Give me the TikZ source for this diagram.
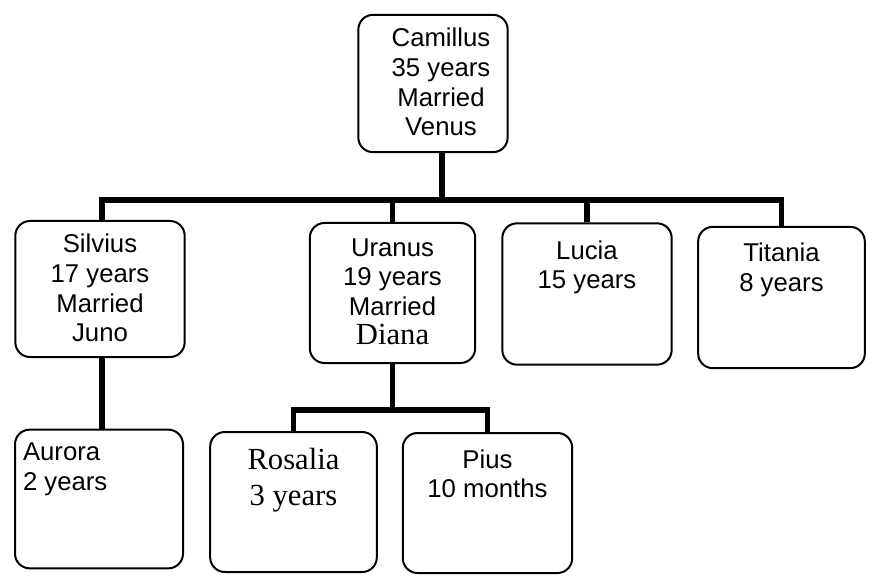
\documentclass[tikz,border=0pt]{standalone}
\usepackage{fontspec}
\setmainfont{Liberation Sans}
\newfontfamily\timesfont{Liberation Serif}
\usetikzlibrary{positioning,calc}

% text block inside a card: [top pad], width, height, content
\newcommand{\cardtext}[4][10pt]{\begin{minipage}[c][#3][t]{#2}\vspace*{#1}#4\end{minipage}}

\begin{document}
\begin{tikzpicture}[
    x=0.75pt, y=-0.75pt,
    font=\fontsize{19.3}{22.2}\selectfont,
    person/.style={draw, line width=1.5pt, rounded corners=11pt, inner sep=0pt},
    link/.style={line width=3.8pt}
]
    \useasboundingbox (0,0) rectangle (872,581);

    % top generation
    \node[person] (camillus) at (433,83.5) {\hspace*{12pt}\cardtext{100pt}{103pt}{\centering Camillus\\35 years\\Married\\Venus}};

    % children
    \node[person] (silvius) at (100,289) {\cardtext{127pt}{102pt}{\centering Silvius\\17 years\\Married\\Juno}};
    \node[person] (uranus) at (392.5,293) {\cardtext[11.5pt]{124pt}{105pt}{\centering Uranus\\19 years\\Married\\{\timesfont\fontsize{23}{22.2}\selectfont Diana}}};
    \node[person] (lucia) at (587,294) {\cardtext[13pt]{127pt}{106pt}{\centering Lucia\\15 years}};
    \node[person] (titania) at (781.5,297.5) {\cardtext[12pt]{125pt}{106pt}{\centering Titania\\8 years}};

    % grandchildren
    \node[person] (aurora) at (99,499) {\cardtext{126pt}{104pt}{\hspace*{6pt}Aurora\\\hspace*{6pt}2 years}};
    \node[person] (rosalia) at (293.5,502) {\cardtext[12pt]{125pt}{105pt}{\centering\timesfont\fontsize{23}{27}\selectfont Rosalia\\3 years}};
    \node[person] (pius) at (487.5,503) {\cardtext[12.5pt]{127pt}{105pt}{\centering Pius\\10 months}};

    % family lines
    \coordinate (bar) at (0,200);
    \draw[link] ([xshift=6.75pt]camillus.south) -- ([xshift=6.75pt]camillus.south |- bar);
    \draw[link] ([xshift=1.5pt]silvius.north) -- ([xshift=1.5pt]silvius.north |- bar) -- (titania.north |- bar) -- (titania.north);
    \draw[link] (uranus.north) -- (uranus.north |- bar);
    \draw[link] (lucia.north) -- (lucia.north |- bar);
    \draw[link] ([xshift=1.5pt]silvius.south) -- ([xshift=1.5pt]silvius.south |- aurora.north);

    \coordinate (subbar) at (0,410);
    \draw[link] (uranus.south) -- (uranus.south |- subbar);
    \draw[link] (rosalia.north) -- (rosalia.north |- subbar) -- (pius.north |- subbar) -- (pius.north);
\end{tikzpicture}
\end{document}
